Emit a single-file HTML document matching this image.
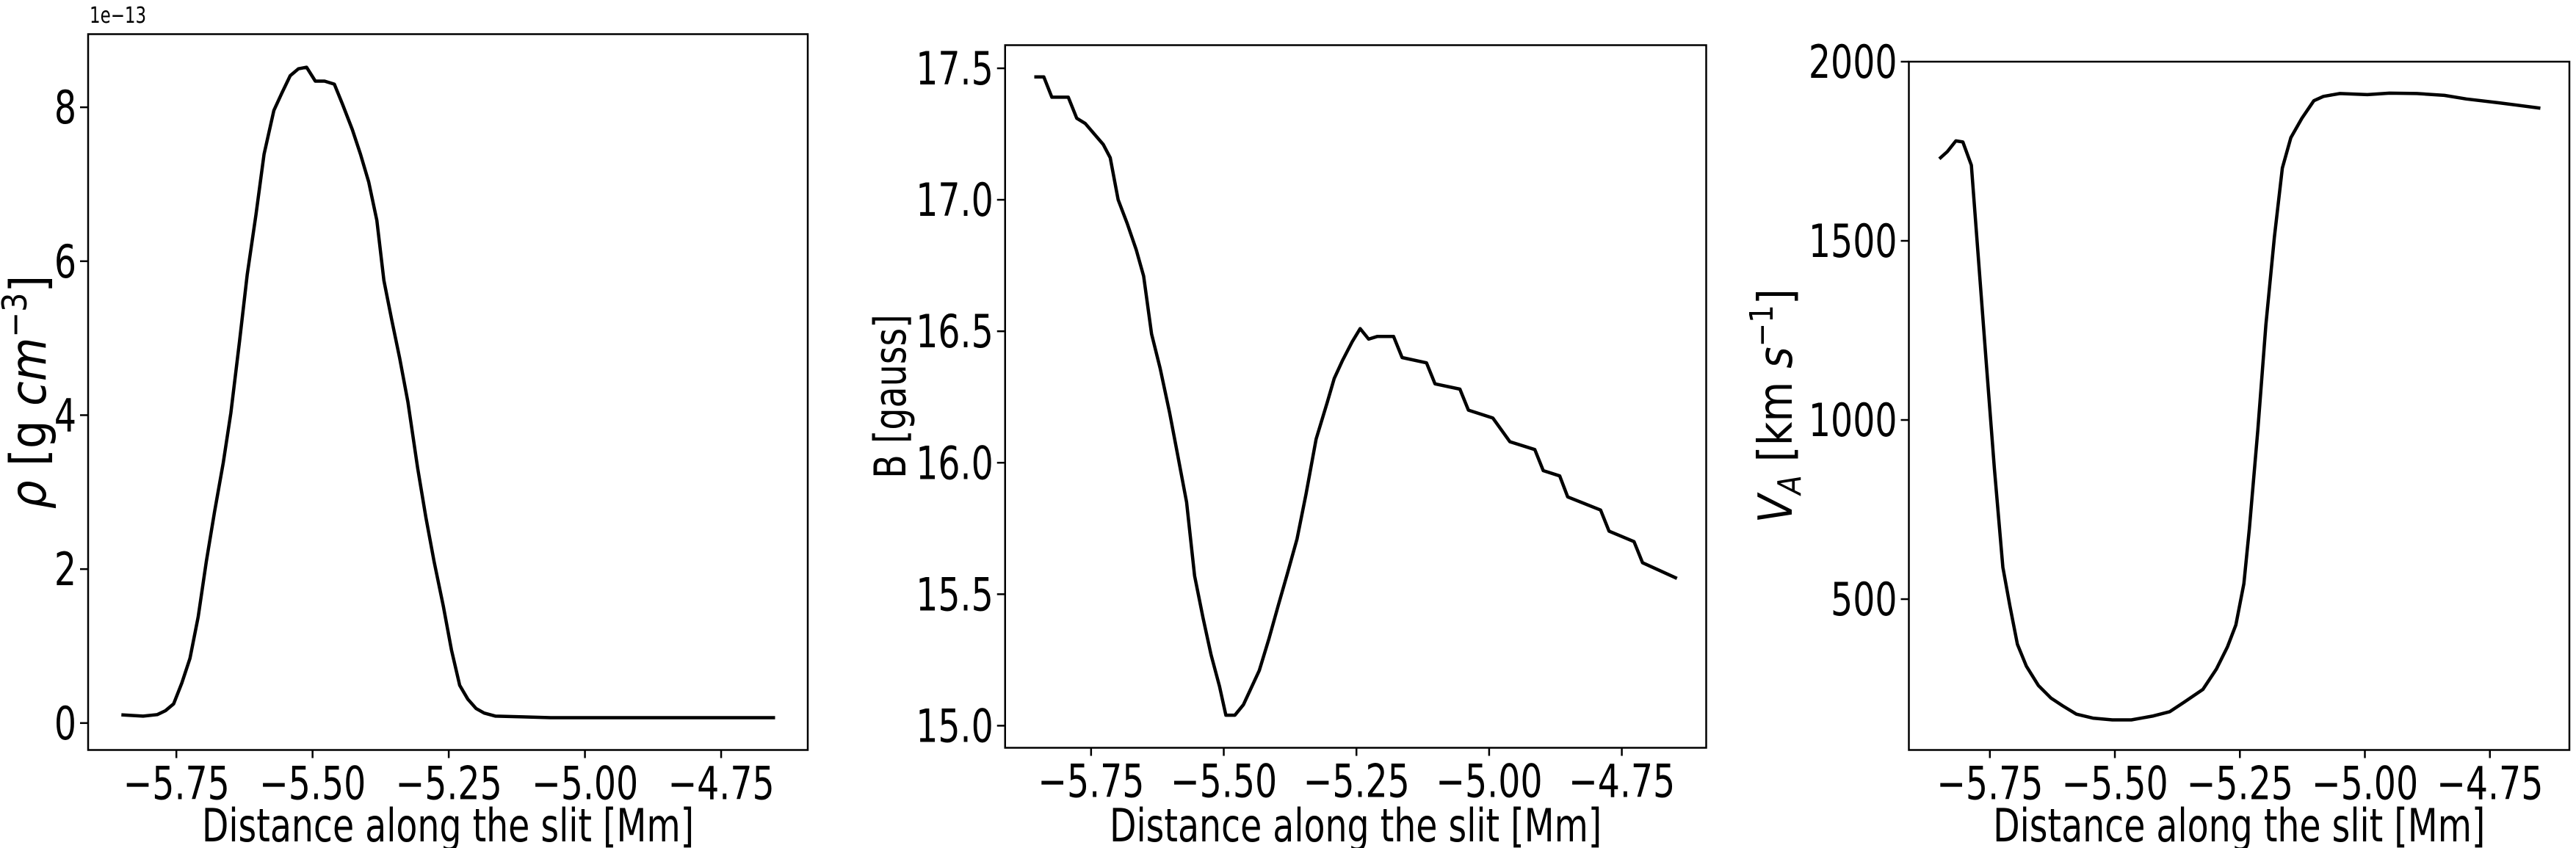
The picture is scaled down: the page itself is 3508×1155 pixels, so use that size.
<!DOCTYPE html>
<html><head><meta charset="utf-8"><style>
html,body{margin:0;padding:0;background:#fff}
svg{display:block}
text{font-family:"DejaVu Sans Condensed","DejaVu Sans","Liberation Sans",sans-serif;fill:#000}
</style></head><body>
<svg id="fig" width="3508" height="1155" viewBox="0 0 3508 1155" xmlns="http://www.w3.org/2000/svg"></svg>
<script>
const xTicks=[-5.75,-5.5,-5.25,-5.0,-4.75];
const xTickLabels=["\u22125.75","\u22125.50","\u22125.25","\u22125.00","\u22124.75"];
const rhoX=[-5.851,-5.811,-5.785,-5.77,-5.755,-5.74,-5.725,-5.71,-5.695,-5.68,-5.664,-5.65,-5.634,-5.62,-5.604,-5.589,-5.571,-5.556,-5.541,-5.526,-5.511,-5.495,-5.478,-5.46,-5.445,-5.427,-5.412,-5.397,-5.382,-5.369,-5.355,-5.34,-5.325,-5.307,-5.292,-5.277,-5.26,-5.245,-5.23,-5.215,-5.2,-5.185,-5.164,-5.114,-5.063,-4.651];
const rhoY=[0.107,0.09,0.11,0.16,0.25,0.52,0.84,1.38,2.1,2.74,3.38,4.03,4.96,5.82,6.6,7.39,7.96,8.19,8.41,8.5,8.52,8.34,8.34,8.3,8.04,7.71,7.39,7.03,6.53,5.75,5.25,4.74,4.17,3.31,2.67,2.1,1.52,0.95,0.49,0.31,0.19,0.13,0.09,0.08,0.07,0.07];
const rhoTicks=[0,2,4,6,8];
const bX=[-5.857,-5.839,-5.824,-5.793,-5.777,-5.761,-5.727,-5.714,-5.699,-5.682,-5.665,-5.651,-5.636,-5.62,-5.602,-5.586,-5.57,-5.555,-5.539,-5.524,-5.508,-5.496,-5.479,-5.463,-5.433,-5.415,-5.397,-5.38,-5.362,-5.345,-5.326,-5.305,-5.292,-5.276,-5.258,-5.243,-5.227,-5.211,-5.18,-5.164,-5.118,-5.102,-5.055,-5.039,-4.993,-4.961,-4.914,-4.898,-4.867,-4.852,-4.79,-4.774,-4.727,-4.711,-4.646];
const bY=[17.467,17.467,17.39,17.39,17.31,17.29,17.21,17.16,17.0,16.91,16.81,16.71,16.49,16.36,16.19,16.02,15.85,15.57,15.41,15.27,15.15,15.04,15.04,15.08,15.21,15.33,15.46,15.58,15.71,15.88,16.09,16.23,16.32,16.39,16.46,16.51,16.47,16.48,16.48,16.40,16.38,16.30,16.28,16.20,16.17,16.08,16.05,15.97,15.95,15.87,15.82,15.74,15.70,15.62,15.56];
const bTicks=[15.0,15.5,16.0,16.5,17.0,17.5];
const bTickLabels=["15.0","15.5","16.0","16.5","17.0","17.5"];
const vX=[-5.851,-5.835,-5.818,-5.804,-5.787,-5.772,-5.757,-5.741,-5.724,-5.71,-5.695,-5.677,-5.653,-5.628,-5.604,-5.577,-5.544,-5.505,-5.467,-5.423,-5.39,-5.362,-5.324,-5.297,-5.275,-5.258,-5.242,-5.231,-5.214,-5.198,-5.181,-5.165,-5.148,-5.126,-5.102,-5.083,-5.05,-4.995,-4.951,-4.896,-4.841,-4.797,-4.731,-4.649];
const vY=[1729,1749,1779,1776,1711,1434,1157,866,589,482,374,313,259,224,202,179,168,163,163,174,186,212,248,305,366,428,543,697,974,1266,1511,1703,1788,1842,1891,1903,1911,1908,1912,1911,1906,1896,1885,1870];
const vTicks=[500,1000,1500,2000];

const NS="http://www.w3.org/2000/svg";
const svg=document.getElementById('fig');
const SQ=0.85;
function mk(tag,attrs,parent){const e=document.createElementNS(NS,tag);for(const k in attrs)e.setAttribute(k,attrs[k]);(parent||svg).appendChild(e);return e;}
function txt(x,y,size,anchor,rot,parent,sq){
  return mk('text',{x:0,y:0,'font-size':size,'text-anchor':anchor,transform:`translate(${x},${y})${rot?' rotate(-90)':''} scale(${sq||SQ},1)`},parent);
}

function panel(id,box,xd,yd,xs,ys,yTicks,yLabels,ylab,ylabX,ylabSize,ylabSq){
  const g=mk('g',{});
  
  
  const sx=v=>box.l+(v-xd[0])/(xd[1]-xd[0])*(box.r-box.l);
  const sy=v=>box.b-(v-yd[0])/(yd[1]-yd[0])*(box.b-box.t);
  const line=mk('polyline',{points:xs.map((x,i)=>sx(x).toFixed(1)+','+sy(ys[i]).toFixed(1)).join(' '),fill:'none',stroke:'#000','stroke-width':4.5,'stroke-linejoin':'round'},g);
  
  
  const frame=mk('rect',{x:box.l,y:box.t,width:box.r-box.l,height:box.b-box.t,fill:'none',stroke:'#000','stroke-width':2.5},g);
  
  
  xTicks.forEach((v,i)=>{
    const x=sx(v);
    mk('line',{x1:x,x2:x,y1:box.b,y2:box.b+11,stroke:'#000','stroke-width':2.5},g);
    const t=txt(x,box.b+67,62,'middle',false,g);
    
    
    t.textContent=xTickLabels[i];
  });
  yTicks.forEach((v,i)=>{
    const y=sy(v);
    mk('line',{x1:box.l-11,x2:box.l,y1:y,y2:y,stroke:'#000','stroke-width':2.5},g);
    const t=txt(box.l-16,y+22,62,'end',false,g);
    
    
    t.textContent=yLabels[i];
  });
  const xl=txt((box.l+box.r)/2,1146,62,'middle',false,g);
  
  
  xl.textContent='Distance along the slit [Mm]';
  const cy=(box.t+box.b)/2;
  const yl=txt(ylabX,cy,ylabSize,'middle',true,g,ylabSq);
  
  
  yl.innerHTML=ylab;
  return g;
}
const xd=[-5.912,-4.591];
panel('density',{l:120,r:1100,t:46.5,b:1021.5},xd,[-0.35,8.95],rhoX,rhoY,rhoTicks,rhoTicks.map(String),
  '<tspan font-style="italic">ρ</tspan> [g <tspan font-style="italic">cm</tspan><tspan dy="-26" font-size="46">−3</tspan><tspan dy="26">]</tspan>',62,68,1.0);
const off=mk('text',{x:0,y:0,'font-size':30,transform:`translate(122,31) scale(${SQ},1)`});


off.textContent='1e\u221213';
panel('field',{l:1368.75,r:2323.5,t:61.5,b:1018.5},xd,[14.916,17.588],bX,bY,bTicks,bTickLabels,'B [gauss]',1233,60,0.88);
panel('alfven',{l:2599.5,r:3499,t:84,b:1021.5},xd,[79,2000],vX,vY,vTicks,vTicks.map(String),
  '<tspan font-style="italic">V</tspan><tspan font-style="italic" font-size="44" dy="12">A</tspan><tspan dy="-12"> [km </tspan><tspan font-style="italic">s</tspan><tspan dy="-26" font-size="44">−1</tspan><tspan dy="26">]</tspan>',2440,64,0.98);
</script>
</body></html>
